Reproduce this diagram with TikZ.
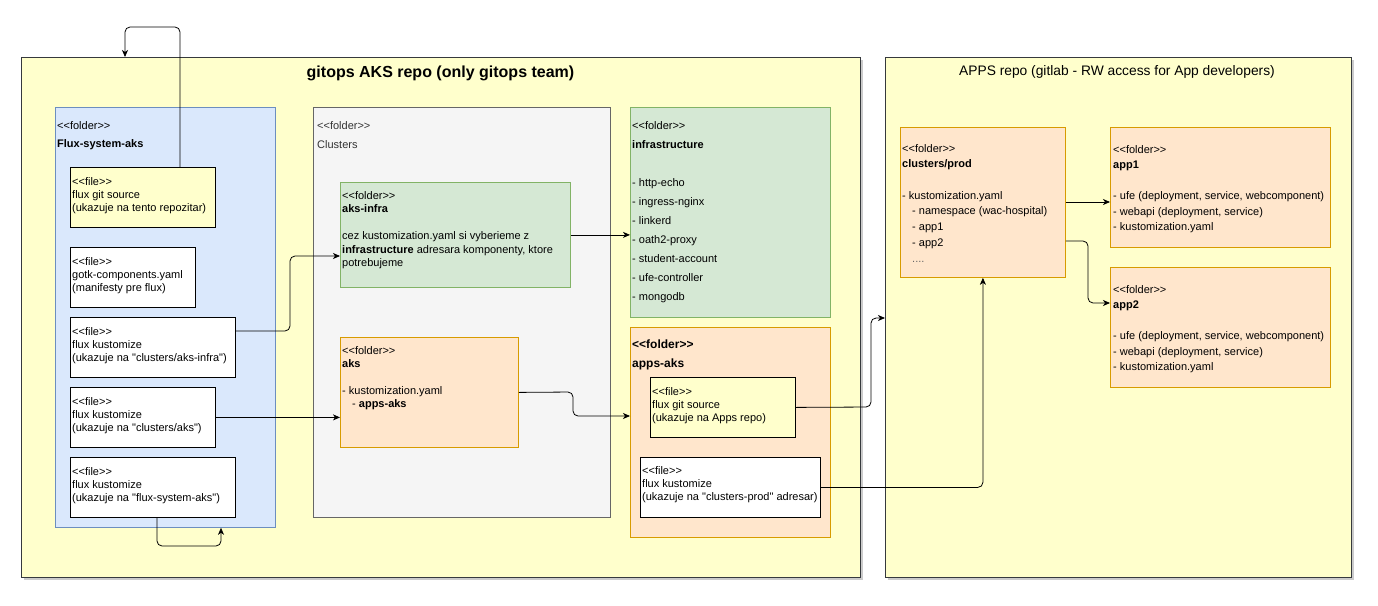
\documentclass[tikz,border=0pt]{standalone}
\usepackage{fontspec}
\setmainfont{Liberation Sans}[Ligatures=TeXOff]
\usetikzlibrary{arrows.meta,shadows}
\definecolor{yel}{HTML}{FFFFCC}
\definecolor{dark}{HTML}{36393D}
\definecolor{bluefill}{HTML}{DAE8FC}
\definecolor{bluestroke}{HTML}{6C8EBF}
\definecolor{greyfill}{HTML}{F5F5F5}
\definecolor{greystroke}{HTML}{666666}
\definecolor{greytext}{HTML}{333333}
\definecolor{greenfill}{HTML}{D5E8D4}
\definecolor{greenstroke}{HTML}{82B366}
\definecolor{orangefill}{HTML}{FFE6CC}
\definecolor{orangestroke}{HTML}{D79B00}
\tikzset{
  box/.style={draw, anchor=north west, inner sep=0pt, line width=0.8pt},
  repo/.style={box, fill=yel, draw=dark, drop shadow={shadow xshift=3pt, shadow yshift=-3pt, fill=black!40, opacity=0.5}},
  bluebox/.style={box, fill=bluefill, draw=bluestroke},
  greybox/.style={box, fill=greyfill, draw=greystroke},
  greenbox/.style={box, fill=greenfill, draw=greenstroke},
  orangebox/.style={box, fill=orangefill, draw=orangestroke},
  filebox/.style={box, fill=white, draw=black},
  yfilebox/.style={box, fill=yel, draw=black},
  txt/.style={align=left, anchor=north west, inner sep=0pt, font=\fontsize{11}{13}\selectfont},
  conn/.style={draw=black, line width=0.8pt, rounded corners=5pt, -{Stealth[length=7pt,width=6pt,inset=2pt]}},
}
\begin{document}
\begin{tikzpicture}[x=1pt,y=-1pt]
\useasboundingbox (0,0) rectangle (1378,605);
\fill[white] (0,0) rectangle (1378,605);
% containers
\node[repo, minimum width=839, minimum height=520] (gitops) at (21,57) {};
\node[repo, minimum width=466, minimum height=520] (apps) at (885,57) {};
\node[font=\bfseries\fontsize{16}{18}\selectfont] (t1) at (440.5,73.5) {gitops AKS repo (only gitops team)};
\node[font=\fontsize{13.8}{16}\selectfont] (t2) at (1117,72) {APPS repo (gitlab - RW access for App developers)};
% flux-system
\node[bluebox, minimum width=220, minimum height=420] (fluxsys) at (55,107) {};
\node[txt, font=\fontsize{11}{18}\selectfont] (fluxsyst) at (57,121.5) {<<folder>>\\\textbf{Flux-system-aks}};
\node[yfilebox, minimum width=145, minimum height=60] (f1) at (70,167) {};
\node[txt] (f1t) at (72,177) {<<file>>\\flux git source\\(ukazuje na tento repozitar)};
\node[filebox, minimum width=125, minimum height=60] (f2) at (70,247) {};
\node[txt] (f2t) at (72,257) {<<file>>\\gotk-components.yaml\\(manifesty pre flux)};
\node[filebox, minimum width=165, minimum height=60] (f3) at (70,317) {};
\node[txt] (f3t) at (72,327) {<<file>>\\flux kustomize\\(ukazuje na "clusters/aks-infra")};
\node[filebox, minimum width=145, minimum height=60] (f4) at (70,387) {};
\node[txt] (f4t) at (72,397) {<<file>>\\flux kustomize\\(ukazuje na "clusters/aks")};
\node[filebox, minimum width=165, minimum height=60] (f5) at (70,457) {};
\node[txt] (f5t) at (72,467) {<<file>>\\flux kustomize\\(ukazuje na "flux-system-aks")};
% clusters
\node[greybox, minimum width=297, minimum height=410] (clusters) at (313,107) {};
\node[txt, text=greytext, font=\fontsize{11}{19}\selectfont] (clusterst) at (317,121) {<<folder>>\\Clusters};
\node[greenbox, minimum width=230, minimum height=105] (aksinfra) at (340,182) {};
\node[txt, font=\fontsize{11}{13.5}\selectfont] (aksinfrat) at (342,191) {<<folder>>\\\textbf{aks-infra}\\[13.5pt]cez kustomization.yaml si vyberieme z\\\textbf{infrastructure} adresara komponenty, ktore\\potrebujeme};
\node[orangebox, minimum width=178, minimum height=110] (aks) at (340,337) {};
\node[txt, font=\fontsize{11}{13.3}\selectfont] (akst) at (342,346) {<<folder>>\\\textbf{aks}\\[13.3pt]- kustomization.yaml\\\hspace{10pt}- \textbf{apps-aks}};
% infrastructure
\node[greenbox, minimum width=200, minimum height=210] (infra) at (630,107) {};
\node[txt, font=\fontsize{11}{19}\selectfont] (infrat) at (632,121) {<<folder>>\\\textbf{infrastructure}\\[19pt]- http-echo\\- ingress-nginx\\- linkerd\\- oath2-proxy\\- student-account\\- ufe-controller\\- mongodb};
% apps-aks
\node[orangebox, minimum width=200, minimum height=210] (appsaks) at (630,327) {};
\node[txt, font=\bfseries\fontsize{12}{19}\selectfont] (appsakst) at (632,339.5) {<<folder>>\\apps-aks};
\node[yfilebox, minimum width=145, minimum height=60] (ga) at (650,377) {};
\node[txt] (gat) at (652,387) {<<file>>\\flux git source\\(ukazuje na Apps repo)};
\node[filebox, minimum width=180, minimum height=60] (ka) at (640,457) {};
\node[txt] (kat) at (642,466) {<<file>>\\flux kustomize\\(ukazuje na "clusters-prod" adresar)};
% apps repo
\node[orangebox, minimum width=165, minimum height=150] (prod) at (900,127) {};
\node[txt, font=\fontsize{11}{15.7}\selectfont] (prodt) at (902,144) {<<folder>>\\\textbf{clusters/prod}\\[15.7pt]- kustomization.yaml\\\hspace{10pt}- namespace (wac-hospital)\\\hspace{10pt}- app1\\\hspace{10pt}- app2\\\hspace{10pt}\textcolor{greystroke}{....}};
\node[orangebox, minimum width=220, minimum height=120] (app1) at (1110,127) {};
\node[txt, font=\fontsize{11}{15.5}\selectfont] (app1t) at (1113,145) {<<folder>>\\\textbf{app1}\\[15.5pt]- ufe (deployment, service, webcomponent)\\- webapi (deployment, service)\\- kustomization.yaml};
\node[orangebox, minimum width=220, minimum height=120] (app2) at (1110,267) {};
\node[txt, font=\fontsize{11}{15.5}\selectfont] (app2t) at (1113,285) {<<folder>>\\\textbf{app2}\\[15.5pt]- ufe (deployment, service, webcomponent)\\- webapi (deployment, service)\\- kustomization.yaml};
% connectors
\coordinate (c1a) at (180,27);
\coordinate (c1b) at (125,27);
\draw[conn] (f1.north -| c1a) -- (c1a) -- (c1b) -- (c1b |- gitops.north);
\coordinate (c2a) at (157,546);
\coordinate (c2b) at (221,546);
\draw[conn] (f5.south -| c2a) -- (c2a) -- (c2b) -- (c2b |- fluxsys.south);
\draw[conn] (f3.east |- 0,331) -- (290,331) -- (290,256) -- (aksinfra.west |- 0,256);
\draw[conn] (f4.east) -- (aks.west |- f4.east);
\draw[conn] (aksinfra.east) -- (infra.west |- aksinfra.east);
\draw[conn] (aks.east) -- (573,392) -- (573,416) -- (appsaks.west |- 0,416);
\draw[conn] (ga.east) -- (871,407) -- (871,318) -- (apps.west |- 0,318);
\draw[conn] (ka.east) -| (prod.south);
\draw[conn] (prod.east |- 0,202) -- (app1.west |- 0,202);
\draw[conn] (prod.east |- 0,241) -- (1088,241) -- (1088,303) -- (app2.west |- 0,303);
\end{tikzpicture}
\end{document}
